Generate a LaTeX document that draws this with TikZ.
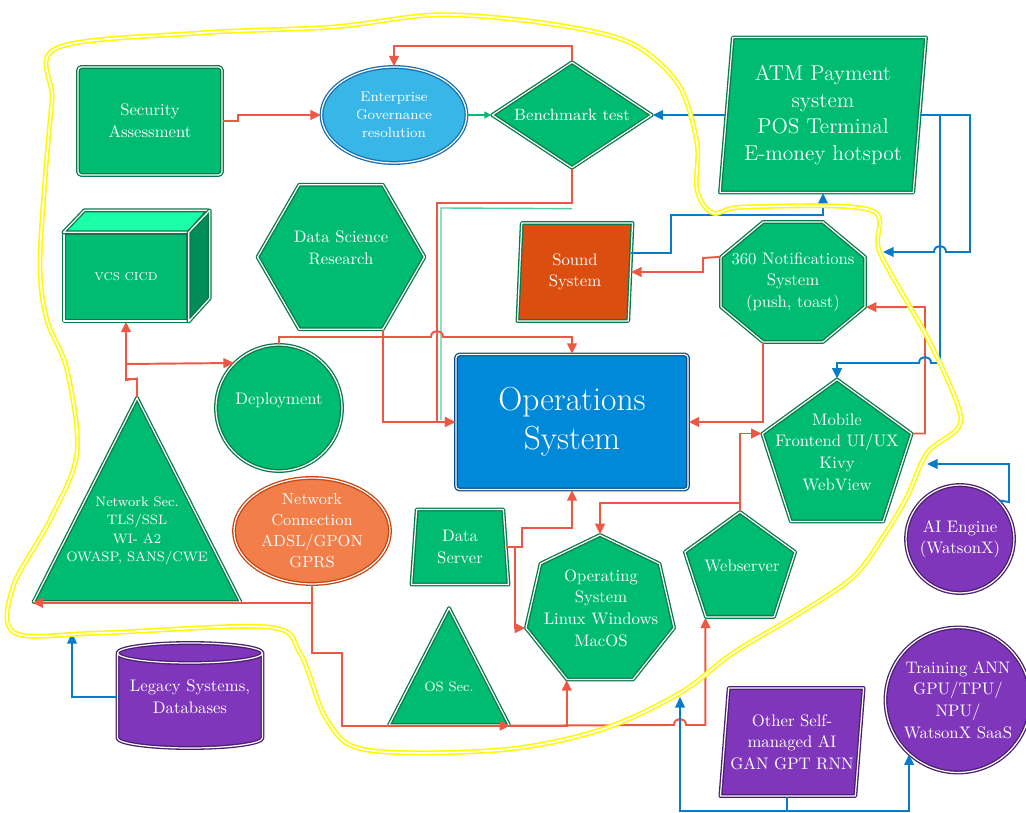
\documentclass[tikz,border=0pt]{standalone}
\usepackage{tikz}
\usetikzlibrary{shapes.geometric, arrows.meta}
\definecolor{shapegreen}{RGB}{0,187,114}
\definecolor{edgegreen}{RGB}{8,122,74}
\definecolor{arrowred}{RGB}{236,88,68}
\definecolor{arrowblue}{RGB}{8,124,200}
\definecolor{skyblue}{RGB}{56,182,232}
\definecolor{skyedge}{RGB}{24,112,176}
\definecolor{opsblue}{RGB}{0,137,216}
\definecolor{opsedge}{RGB}{10,76,136}
\definecolor{soundorange}{RGB}{220,77,16}
\definecolor{netorange}{RGB}{242,126,74}
\definecolor{netedge}{RGB}{200,68,16}
\definecolor{aipurple}{RGB}{128,54,186}
\definecolor{aiedge}{RGB}{74,30,112}
\definecolor{boxtop}{RGB}{26,255,168}
\definecolor{boxside}{RGB}{0,140,86}
\definecolor{hiyellow}{RGB}{255,250,0}

\begin{document}
\begin{tikzpicture}[x=0.02cm, y=-0.02cm,
    block/.style={draw=edgegreen, double=white, double distance=0.7pt, line width=0.75pt,
      fill=shapegreen, text=white, align=center, inner sep=1pt, line join=round,
      font=\fontsize{9.5}{12.3}\selectfont},
    purpleblock/.style={block, draw=aiedge, fill=aipurple},
    lbl/.style={text=white, align=center, inner sep=0pt, font=\fontsize{9.5}{12.3}\selectfont},
    redarrow/.style={draw=arrowred, line width=1.1pt, -{Triangle[length=6pt, width=5.5pt]}},
    bluearrow/.style={draw=arrowblue, line width=1.1pt, -{Triangle[length=6pt, width=5.5pt]}}]
  \useasboundingbox (0,0) rectangle (1026,813);

  % top row
  \node[block, rectangle, rounded corners=2pt, minimum width=2.88cm, minimum height=2.16cm] (secassess) at (150,121) {Security\\Assessment};
  \node[block, ellipse, draw=skyedge, fill=skyblue, minimum width=2.9cm, minimum height=1.92cm,
    font=\fontsize{8}{10.1}\selectfont] (egov) at (394,115) {Enterprise\\Governance\\resolution};
  \node[block, diamond, aspect=1.5, minimum width=3.2cm, minimum height=2.12cm,
    font=\fontsize{9.3}{11}\selectfont] (bench) at (572,115) {Benchmark test};
  \node[block, trapezium, trapezium left angle=83, trapezium right angle=97, trapezium stretches body,
    minimum width=4.12cm, minimum height=3.1cm, font=\fontsize{12.2}{15.3}\selectfont]
    (atm) at (823,115) {ATM Payment\\system\\POS Terminal\\E-money hotspot};

  % 3d box
  \node[block, rectangle, minimum width=2.48cm, minimum height=1.76cm, font=\fontsize{6.5}{8}\selectfont] (vcs) at (126,277) {VCS CICD};
  \filldraw[draw=edgegreen, double=white, double distance=0.7pt, line width=0.75pt, line join=round, fill=boxtop]
    (vcs.north west) -- ++(21,-22) -- ++(124,0) -- (vcs.north east) -- cycle;
  \filldraw[draw=edgegreen, double=white, double distance=0.7pt, line width=0.75pt, line join=round, fill=boxside]
    (vcs.north east) -- ++(21,-22) -- ++(0,88) -- (vcs.south east) -- cycle;

  \node[block, regular polygon, regular polygon sides=6, minimum size=3.34cm] (dsr) at (341,257) {};
  \node[lbl] (dsrtext) at (341,248) {Data Science\\Research};
  \node[block, trapezium, trapezium left angle=84, trapezium right angle=96, trapezium stretches body,
    fill=soundorange, minimum width=2.3cm, minimum height=1.96cm] (sound) at (575,272) {Sound\\System};
  \node[block, regular polygon, regular polygon sides=8, minimum size=2.6cm, xscale=1.2] (notif) at (793,282) {};
  \node[lbl] (notiftext) at (793,282) {360 Notifications\\System\\(push, toast)};

  % middle
  \node[block, circle, minimum size=2.52cm] (deploy) at (279,408) {};
  \node[lbl] (deploytext) at (279,400) {Deployment};
  \node[block, rectangle, rounded corners=2pt, draw=opsedge, fill=opsblue, minimum width=4.64cm, minimum height=2.7cm,
    font=\fontsize{19}{22}\selectfont] (ops) at (572,422) {Operations\\System};
  \node[block, regular polygon, regular polygon sides=5, minimum size=3.14cm] (mobile) at (837,458) {};
  \node[lbl] (mobiletext) at (837,452) {Mobile\\Frontend UI/UX\\Kivy\\WebView};
  \node[block, regular polygon, regular polygon sides=3, minimum size=4.78cm, yscale=1.138] (netsec) at (137,534) {};
  \node[lbl, font=\fontsize{7.8}{10.4}\selectfont] (netsectext) at (137,531) {Network Sec.\\TLS/SSL\\WI- A2\\OWASP, SANS/CWE};
  \node[block, ellipse, draw=netedge, fill=netorange, minimum width=3.12cm, minimum height=2.12cm,
    inner sep=0pt, inner ysep=-2pt, font=\fontsize{9.1}{12}\selectfont] (netconn) at (312,531) {Network\\Connection\\ADSL/GPON\\GPRS};
  \node[block, trapezium, trapezium left angle=82, trapezium right angle=82, trapezium stretches body,
    minimum width=1.94cm, minimum height=1.5cm] (dserv) at (460,547) {Data\\Server};
  \node[block, regular polygon, regular polygon sides=7, minimum size=3.04cm] (opsys) at (600,611) {};
  \node[lbl] (opsystext) at (601,608) {Operating\\System\\Linux Windows\\MacOS};
  \node[block, regular polygon, regular polygon sides=5, minimum size=2.32cm] (websrv) at (740,570) {};
  \node[lbl] (websrvtext) at (742,566) {Webserver};
  \node[block, regular polygon, regular polygon sides=3, minimum size=2.77cm, yscale=1.125] (osec) at (449,686) {};
  \node[lbl, font=\fontsize{7.8}{10.4}\selectfont] (osectext) at (449,687) {OS Sec.};

  % purple ones
  \node[purpleblock, circle, minimum size=2.16cm] (aieng) at (960,539) {AI Engine\\(WatsonX)};
  \node[purpleblock, circle, minimum size=2.9cm] (train) at (958,700) {Training ANN\\GPU/TPU/\\NPU/\\WatsonX SaaS};
  \filldraw[draw=aiedge, fill=aipurple, double=white, double distance=0.7pt, line width=0.75pt, line join=round]
    (117.5,653) -- (117.5,738) arc[start angle=180, end angle=360, x radius=1.45cm, y radius=0.2cm]
    -- (262.5,653) arc[start angle=0, end angle=180, x radius=1.45cm, y radius=0.2cm] -- cycle
    (117.5,653) arc[start angle=180, end angle=360, x radius=1.45cm, y radius=0.2cm];
  \node[lbl, minimum width=2.9cm, minimum height=1.7cm] (legacy) at (190,697) {Legacy Systems,\\Databases};
  \node[purpleblock, trapezium, trapezium left angle=82, trapezium right angle=98, trapezium stretches body,
    minimum width=2.82cm, minimum height=2.16cm] (otherai) at (792,742) {Other Self-\\managed AI\\GAN GPT RNN};

  \coordinate (atmfree) at (883,252);
  \coordinate (aifree) at (927,464);
  \coordinate (legacyfree) at (72,633);
  \coordinate (otherfree) at (680,697);

  % red connectors
  \draw[redarrow] (secassess.east) -- ++(15,0) |- (egov.west);
  \draw[redarrow] (bench.north) -- ++(0,-15) -| (egov.north);
  \draw[draw=shapegreen, line width=0.6pt, -{Triangle[length=4pt, width=4pt]}] (egov.east) -- (bench.west);
  \draw[draw=shapegreen!70, line width=0.8pt] (bench.south) ++(0,40) -- (441,208) -- (441,420);
  \draw[redarrow] (bench.south) |- (437,203) -- (437,422) -- (ops.west);
  \draw[redarrow] (dsr.corner 5) |- (ops.west);
  \draw[redarrow] (deploy.north) -- (279,337) -- (431,337) .. controls (431,329) and (443,329) .. (443,337) -| (ops.north);
  \draw[redarrow] (netsec.corner 1) -- ++(0,-18) -| (vcs.south);
  \draw[redarrow] (netsec.corner 1) -- ++(0,-18) -- (126,380) -- (126,364) -- (deploy.north west);
  \draw[redarrow] (netconn.south) |- (netsec.corner 2);
  \draw[redarrow] (netconn.south) -- (312,653) -- (342,653) |- (osec.corner 3);
  \draw[redarrow] (osec.corner 3) -| (opsys.corner 4);
  \draw[redarrow] (osec.corner 3) -- (674,725) .. controls (674,717) and (686,717) .. (686,725) -| (websrv.corner 3);
  \draw[redarrow] (dserv.east) -- (522,547) -- (522,528) -| (ops.south);
  \draw[redarrow] (dserv.east) -- (515,547) |- (opsys.corner 3);
  \draw[redarrow] (websrv.corner 1) -- (740,503) -| (opsys.corner 1);
  \draw[redarrow] (websrv.corner 1) |- (mobile.corner 2);
  \draw[redarrow] (notif.corner 5) |- (ops.east);
  \draw[redarrow] (notif.corner 3) -- (703,258) |- (sound.east);
  \draw[redarrow] (mobile.corner 5) -| (925,307) -- (notif.corner 7);

  % blue connectors
  \draw[bluearrow] (atm.west) -- (bench.east);
  \draw[bluearrow] (atm.east) -- (970,115) -- (970,252) -- (946,252) .. controls (946,244) and (934,244) .. (934,252) -- (atmfree);
  \draw[bluearrow] (atm.east) -- (940,115) -- (940,363) -- (931,363) .. controls (931,355) and (919,355) .. (919,363) -| (mobile.corner 1);
  \draw[bluearrow] ([yshift=0.38cm]sound.east) -- (671,253) -- (671,215) -| (atm.south);
  \draw[bluearrow] (aieng.north east) -- (1009,502) |- (aifree);
  \draw[bluearrow] (legacy.west) -| (legacyfree);
  \draw[bluearrow] ([xshift=-0.1cm]otherai.south) -- ++(0,14) -| (otherfree);
  \draw[bluearrow] ([xshift=-0.1cm]otherai.south) -- ++(0,14) -| (train.228);

  % highlighted zone
  \draw[hiyellow, double=white, double distance=1pt, line width=0.9pt]
    plot[smooth cycle, tension=0.55] coordinates {(57,48) (200,33) (333,27) (433,15) (520,20) (600,33) (643,50)
      (680,87) (697,143) (697,190) (713,213) (745,207) (870,210) (880,253) (927,337) (957,403) (958,428)
      (927,453) (907,497) (883,537) (853,577) (800,613) (733,653) (680,693) (600,730) (500,750) (367,750)
      (327,720) (300,653) (267,627) (100,633) (15,633) (13,587) (50,520) (77,453) (67,370) (47,320)
      (40,267) (45,180) (52,100)};
\end{tikzpicture}
\end{document}
